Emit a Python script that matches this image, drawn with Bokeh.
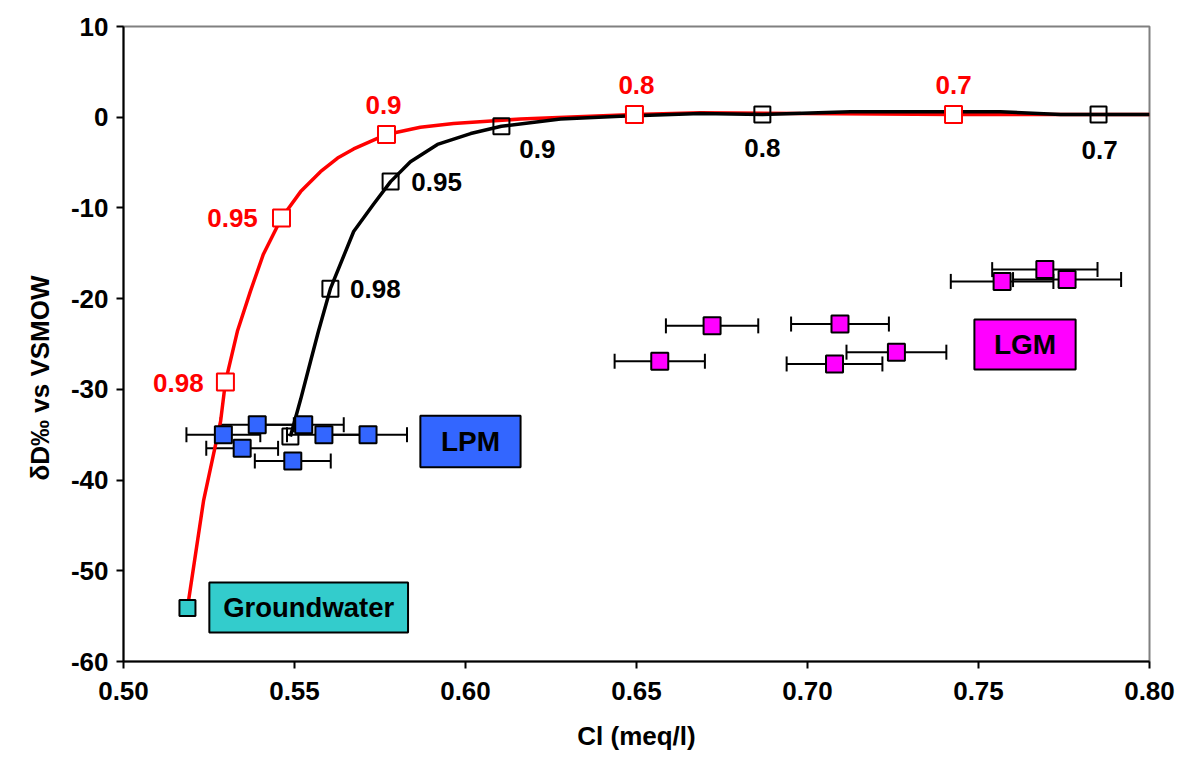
from bokeh.plotting import figure
from bokeh.models import ColumnDataSource, Whisker, TeeHead, Range1d, FixedTicker, NumeralTickFormatter, Title
from bokeh.core.properties import value
from bokeh.embed import file_html
from bokeh.resources import INLINE

# ---------------- data ----------------
# red mixing curve (line) and its labelled points
red_x = [0.5187, 0.5234, 0.5284, 0.5298, 0.5333, 0.5371, 0.5409, 0.5462, 0.5518, 0.5576,
         0.5626, 0.5673, 0.5769, 0.5868, 0.5965, 0.6161, 0.6494, 0.6687, 0.6980, 0.7427, 0.8000]
red_y = [-54.1, -42.3, -33.5, -29.2, -23.6, -19.2, -15.1, -11.1, -8.2, -6.0,
         -4.5, -3.5, -1.9, -1.1, -0.7, -0.2, 0.3, 0.5, 0.4, 0.3, 0.3]
red_mk_x = [0.5298, 0.5462, 0.5769, 0.6494, 0.7427]
red_mk_y = [-29.2, -11.1, -1.9, 0.3, 0.3]
red_mk_lbl = ["0.98", "0.95", "0.9", "0.8", "0.7"]

# black mixing curve (line) and its labelled points
black_x = [0.5488, 0.5518, 0.5547, 0.5570, 0.5605, 0.5673, 0.5731, 0.5781, 0.5839, 0.5918,
           0.6015, 0.6105, 0.6278, 0.6453, 0.6687, 0.6868, 0.7126, 0.7564, 0.7740, 0.7851, 0.8000]
black_y = [-35.2, -31.1, -26.9, -23.6, -18.9, -12.6, -9.6, -7.1, -4.9, -3.0,
           -1.8, -1.0, -0.2, 0.1, 0.4, 0.3, 0.6, 0.6, 0.3, 0.3, 0.3]
black_mk_x = [0.5488, 0.5605, 0.5781, 0.6105, 0.6868, 0.7851]
black_mk_y = [-35.2, -18.9, -7.1, -1.0, 0.3, 0.3]
black_mk_lbl = ["", "0.98", "0.95", "0.9", "0.8", "0.7"]

# LPM samples
lpm_x = [0.5292, 0.5391, 0.5347, 0.5527, 0.5586, 0.5715, 0.5495]
lpm_y = [-35.0, -33.9, -36.5, -33.9, -35.0, -35.0, -37.9]
lpm_err = [0.0108, 0.0107, 0.0105, 0.0117, 0.0108, 0.0114, 0.0111]

# LGM samples
lgm_x = [0.6568, 0.6721, 0.7095, 0.7079, 0.7260, 0.7569, 0.7694, 0.7759]
lgm_y = [-26.9, -23.0, -22.8, -27.2, -25.9, -18.1, -16.8, -17.9]
lgm_err = [0.0132, 0.0135, 0.0143, 0.0140, 0.0146, 0.0150, 0.0154, 0.0158]

# groundwater end-member
gw_x = [0.5187]
gw_y = [-54.1]

x_ticks = [0.50, 0.55, 0.60, 0.65, 0.70, 0.75, 0.80]
y_ticks = [-60, -50, -40, -30, -20, -10, 0, 10]

# ---------------- styling / layout ----------------
FONT = "Liberation Sans"
BLUE = "#3366FF"
MAGENTA = "#FF00FF"
TEAL = "#33CCCC"

p = figure(width=1186, height=757, output_backend="svg", toolbar_location=None,
           x_range=Range1d(0.50, 0.80), y_range=Range1d(-60, 10),
           min_border_left=123, min_border_right=37, min_border_top=26, min_border_bottom=96)
p.background_fill_color = "white"
p.border_fill_color = "white"
p.outline_line_color = "#808080"
p.outline_line_width = 2
p.xgrid.visible = False
p.ygrid.visible = False

for ax in (p.xaxis[0], p.yaxis[0]):
    ax.axis_line_color = "black"
    ax.axis_line_width = 2
    ax.major_tick_line_color = "black"
    ax.major_tick_line_width = 2
    ax.major_tick_in = 0
    ax.major_tick_out = 7
    ax.minor_tick_line_color = None
    ax.major_label_text_font = FONT
    ax.major_label_text_font_style = "bold"
    ax.major_label_text_font_size = "26px"
    ax.major_label_text_color = "black"
    ax.axis_label_text_font = FONT
    ax.axis_label_text_font_style = "bold"
    ax.axis_label_text_font_size = "26px"
    ax.axis_label_text_color = "black"

p.xaxis.ticker = FixedTicker(ticks=x_ticks)
p.xaxis.formatter = NumeralTickFormatter(format="0.00")
p.yaxis.ticker = FixedTicker(ticks=y_ticks)
p.yaxis.formatter = NumeralTickFormatter(format="0")
p.xaxis.axis_label = "Cl (meq/l)"
p.xaxis.major_label_standoff = 13
p.xaxis.axis_label_standoff = 18
p.yaxis.major_label_standoff = 8

# y-axis title as a side title (slightly below the frame centre, as in the original)
ytitle = Title(text="δD‰ vs VSMOW", align="left", offset=181, standoff=26,
               text_font=FONT, text_font_style="bold", text_font_size="26px",
               text_color="black")
p.add_layout(ytitle, "left")

# ---------------- label boxes ----------------
boxes = dict(left=[0.5868, 0.7488, 0.5251], right=[0.6161, 0.7784, 0.5832],
             bottom=[-38.6, -27.8, -56.8], top=[-32.9, -22.3, -51.3],
             color=[BLUE, MAGENTA, TEAL], text=["LPM", "LGM", "Groundwater"],
             size=["28px", "28px", "27.5px"])
bsrc = ColumnDataSource(boxes)
p.quad(left="left", right="right", bottom="bottom", top="top", source=bsrc,
       fill_color="color", line_color="black", line_width=2)
bsrc.data["cx"] = [(l + r) / 2 for l, r in zip(boxes["left"], boxes["right"])]
bsrc.data["cy"] = [(b + t) / 2 for b, t in zip(boxes["bottom"], boxes["top"])]
p.text(x="cx", y="cy", text="text", source=bsrc, text_font=value(FONT),
       text_font_style="bold", text_font_size="size", text_color="black",
       text_align="center", text_baseline="middle")

# ---------------- curves ----------------
p.line(red_x, red_y, line_color="red", line_width=3.5)
p.line(black_x, black_y, line_color="black", line_width=3.5)

# ---------------- error bars ----------------
lpm_src = ColumnDataSource(dict(x=lpm_x, y=lpm_y,
                                lo=[a - e for a, e in zip(lpm_x, lpm_err)],
                                hi=[a + e for a, e in zip(lpm_x, lpm_err)]))
lgm_src = ColumnDataSource(dict(x=lgm_x, y=lgm_y,
                                lo=[a - e for a, e in zip(lgm_x, lgm_err)],
                                hi=[a + e for a, e in zip(lgm_x, lgm_err)]))
for src in (lpm_src, lgm_src):
    w = Whisker(base="y", lower="lo", upper="hi", dimension="width", source=src,
                line_color="black", line_width=2,
                lower_head=TeeHead(size=15, line_color="black", line_width=2),
                upper_head=TeeHead(size=15, line_color="black", line_width=2))
    p.add_layout(w)

# ---------------- markers ----------------
p.scatter(black_mk_x, black_mk_y, marker="square", size=16, fill_color=None,
          line_color="black", line_width=2)
p.scatter(red_mk_x, red_mk_y, marker="square", size=17, fill_color="white",
          line_color="red", line_width=2)
p.scatter(x="x", y="y", source=lpm_src, marker="square", size=17, fill_color=BLUE,
          line_color="black", line_width=2)
p.scatter(x="x", y="y", source=lgm_src, marker="square", size=17, fill_color=MAGENTA,
          line_color="black", line_width=2)
p.scatter(gw_x, gw_y, marker="square", size=16, fill_color=TEAL,
          line_color="black", line_width=2)

# ---------------- fraction labels ----------------
red_lbl_src = ColumnDataSource(dict(x=red_mk_x, y=red_mk_y, t=red_mk_lbl,
                                    dx=[-47, -49, -3, 2, 0], dy=[1, 0, -29, -29, -29]))
p.text(x="x", y="y", text="t", source=red_lbl_src, x_offset="dx", y_offset="dy",
       text_font=value(FONT), text_font_style="bold", text_font_size="26px",
       text_color="red", text_align="center", text_baseline="middle")
black_lbl_src = ColumnDataSource(dict(x=black_mk_x, y=black_mk_y, t=black_mk_lbl,
                                      dx=[0, 45, 46, 36, 0, 1], dy=[0, 0, 0, 23, 34, 36]))
p.text(x="x", y="y", text="t", source=black_lbl_src, x_offset="dx", y_offset="dy",
       text_font=value(FONT), text_font_style="bold", text_font_size="26px",
       text_color="black", text_align="center", text_baseline="middle")

open("out.html", "w").write(file_html(p, INLINE))
